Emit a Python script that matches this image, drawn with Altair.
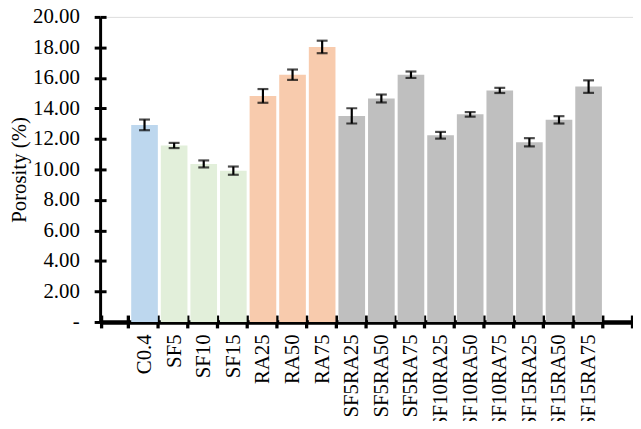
import altair as alt
import pandas as pd

categories = ["C0.4", "SF5", "SF10", "SF15", "RA25", "RA50", "RA75",
              "SF5RA25", "SF5RA50", "SF5RA75", "SF10RA25", "SF10RA50", "SF10RA75",
              "SF15RA25", "SF15RA50", "SF15RA75"]
values = [12.92, 11.57, 10.36, 9.92, 14.82, 16.21, 18.03,
          13.51, 14.65, 16.21, 12.24, 13.61, 15.18,
          11.78, 13.25, 15.43]
errors = [0.35, 0.17, 0.23, 0.27, 0.45, 0.34, 0.41,
          0.50, 0.26, 0.21, 0.22, 0.15, 0.17,
          0.27, 0.24, 0.41]
groups = ["Control", "SF", "SF", "SF", "RA", "RA", "RA",
          "SFRA", "SFRA", "SFRA", "SFRA", "SFRA", "SFRA",
          "SFRA", "SFRA", "SFRA"]
group_names = ["Control", "SF", "RA", "SFRA"]
group_colors = ["#BDD7EE", "#E2EFDA", "#F8CBAD", "#BFBFBF"]
x_domain = [""] + categories + [" "]
y_ticks = [0, 2, 4, 6, 8, 10, 12, 14, 16, 18, 20]

df = pd.DataFrame({"cat": categories, "val": values, "err": errors, "grp": groups})

FONT = "Liberation Serif"
FS = 21

xscale = alt.Scale(domain=x_domain, paddingInner=0.1, paddingOuter=0.05)
yscale = alt.Scale(domain=[0, 20], nice=False)

x_main = alt.X("cat:N", scale=xscale, sort=x_domain, title=None,
               axis=alt.Axis(orient="bottom", domainWidth=4.5, domainColor="black",
                             tickColor="black", tickWidth=3.3, tickSize=6,
                             tickBand="extent", labelAngle=-90, labelFont=FONT,
                             labelFontSize=FS, labelColor="black", labelPadding=6,
                             grid=False))
y_main = alt.Y("val:Q", scale=yscale,
               axis=alt.Axis(orient="left", values=y_ticks, domainWidth=3, domainColor="black",
                             tickColor="black", tickWidth=3, tickSize=6,
                             labelExpr="datum.value == 0 ? '-\u00a0\u00a0' : format(datum.value, '.2f')",
                             labelFont=FONT, labelFontSize=FS, labelColor="black",
                             labelPadding=15, grid=False, title="Porosity (%)",
                             titleFont=FONT, titleFontSize=FS, titleFontWeight="normal",
                             titleColor="black", titlePadding=3))

base = alt.Chart(df)

bars = base.mark_bar().encode(
    x=x_main,
    y=y_main,
    color=alt.Color("grp:N", scale=alt.Scale(domain=group_names, range=group_colors), legend=None),
)

err_rule = base.mark_rule(color="black", strokeWidth=2.2).encode(
    x=alt.X("cat:N", scale=xscale, sort=x_domain, axis=None),
    y=alt.Y("lo:Q", scale=yscale, axis=None),
    y2="hi:Q",
).transform_calculate(lo="datum.val - datum.err", hi="datum.val + datum.err")

cap_lo = base.mark_tick(color="black", thickness=2.2, size=11).encode(
    x=alt.X("cat:N", scale=xscale, sort=x_domain, axis=None),
    y=alt.Y("lo:Q", scale=yscale, axis=None),
).transform_calculate(lo="datum.val - datum.err")

cap_hi = base.mark_tick(color="black", thickness=2.2, size=11).encode(
    x=alt.X("cat:N", scale=xscale, sort=x_domain,
            axis=alt.Axis(orient="bottom", offset=-7, domain=False, labels=False,
                          tickColor="black", tickWidth=3.3, tickSize=7,
                          tickBand="extent", grid=False, title=None)),
    y=alt.Y("hi:Q", scale=yscale,
            axis=alt.Axis(orient="left", offset=-6, values=y_ticks, domain=False, labels=False,
                          tickColor="black", tickWidth=3, tickSize=6, grid=False, title=None)),
).transform_calculate(hi="datum.val + datum.err")

chart = alt.layer(bars, err_rule, cap_lo, cap_hi).resolve_axis(
    x="independent", y="independent"
).properties(
    width=538, height=308,
    autosize=alt.AutoSizeParams(type="none"),
    padding={"left": 93, "top": 7, "right": 0, "bottom": 98},
).configure_view(stroke=None).configure(background="white")

chart.save("out.html", embed_options={"renderer": "svg", "actions": False})
